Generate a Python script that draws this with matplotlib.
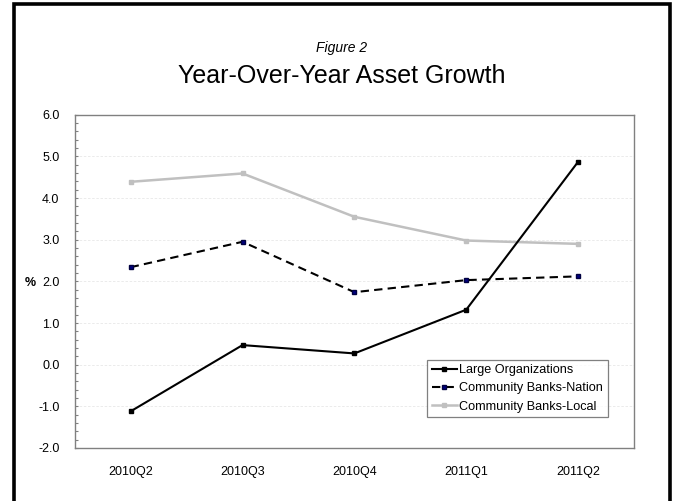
import matplotlib
matplotlib.use("Agg")
import matplotlib.pyplot as plt
from matplotlib.patches import Rectangle
from matplotlib.ticker import MultipleLocator, FormatStrFormatter

plt.rcParams["font.family"] = ["Liberation Sans", "DejaVu Sans"]

# ── Data ────────────────────────────────────────────────────────────────────
quarters = ["2010Q2", "2010Q3", "2010Q4", "2011Q1", "2011Q2"]
large_orgs = [-1.12, 0.47, 0.27, 1.32, 4.87]
cb_nation = [2.34, 2.95, 1.74, 2.03, 2.12]
cb_local = [4.39, 4.59, 3.55, 2.98, 2.90]

fig = plt.figure(figsize=(6.75, 5.01), dpi=100)
ax = fig.add_axes([0.1107, 0.1058, 0.8286, 0.6652])

x = range(len(quarters))
ax.plot(x, large_orgs, color="black", linewidth=1.5, marker="s",
        markersize=3.5, label="Large Organizations", zorder=4)
ax.plot(x, cb_nation, color="black", linewidth=1.5, linestyle=(0, (4, 2.5)),
        marker="s", markersize=3.2, markerfacecolor="#000080",
        markeredgecolor="#000040", label="Community Banks-Nation", zorder=3)
ax.plot(x, cb_local, color="#C0C0C0", linewidth=1.8, marker="s",
        markersize=3.5, label="Community Banks-Local", zorder=2)

# ── Axes styling ────────────────────────────────────────────────────────────
ax.set_xlim(-0.5, len(quarters) - 0.5)
ax.set_ylim(-2.0, 6.0)
ax.set_xticks(list(x))
ax.set_xticklabels(quarters)
ax.yaxis.set_major_locator(MultipleLocator(1.0))
ax.yaxis.set_minor_locator(MultipleLocator(0.2))
ax.yaxis.set_major_formatter(FormatStrFormatter("%.1f"))

ax.tick_params(axis="x", length=0, pad=13, labelsize=9)
ax.tick_params(axis="y", which="both", direction="in", length=2.5,
               color="#808080", width=0.8, pad=11, labelsize=9)

for sp in ax.spines.values():
    sp.set_color("#808080")
    sp.set_linewidth(1.0)

ax.grid(axis="y", which="major", color="#E8E8E8", linestyle=(0, (3, 2)),
        linewidth=0.6)
ax.set_axisbelow(True)

fig.text(30 / 675, 1 - 283 / 501, "%", fontsize=9, fontweight="bold",
         ha="center", va="center")

leg = ax.legend(loc="lower left", bbox_to_anchor=(0.63, 0.093),
                fontsize=9.1, frameon=True, fancybox=False, borderpad=0.35,
                labelspacing=0.5, handlelength=2.0, handletextpad=0.2,
                borderaxespad=0)
leg.get_frame().set_edgecolor("#606060")
leg.get_frame().set_linewidth(0.9)

# ── Titles ──────────────────────────────────────────────────────────────────
fig.text(342 / 675, 1 - 48 / 501, "Figure 2", fontsize=10, style="italic",
         ha="center", va="center")
fig.text(342 / 675, 1 - 76 / 501, "Year-Over-Year Asset Growth",
         fontsize=18, ha="center", va="center")

# outer frame running off the bottom edge
fig.patches.append(Rectangle((14.5 / 675, -0.05), 655 / 675,
                             1.05 - 4.5 / 501, transform=fig.transFigure,
                             fill=False, edgecolor="black", linewidth=2.6,
                             clip_on=False))

fig.savefig("out.png", dpi=100)
